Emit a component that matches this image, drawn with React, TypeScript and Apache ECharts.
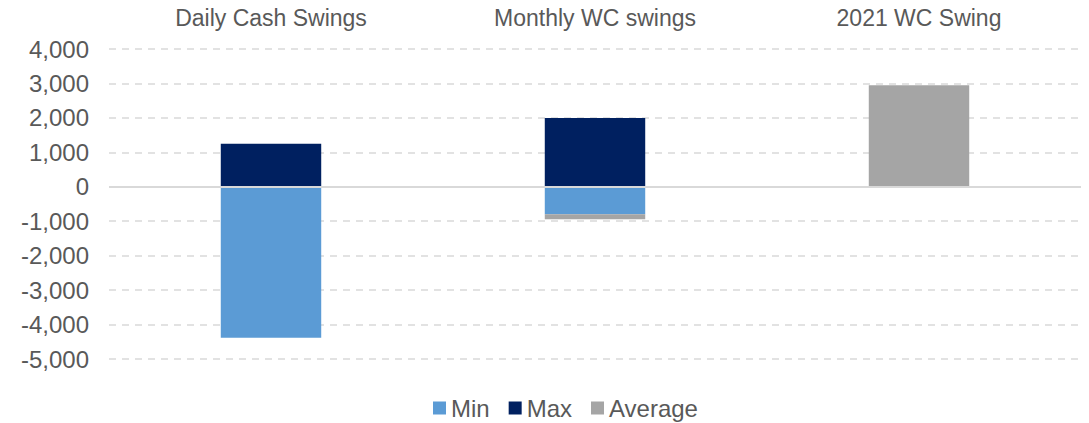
import React, { useEffect, useRef } from "react";
import * as echarts from "echarts";

const categories = ["Daily Cash Swings", "Monthly WC swings", "2021 WC Swing"];
const minValues = [-4380, -800, null];
const maxValues = [1250, 2000, null];
const averageValues = [null, -145, 2950];

export default function App() {
  const ref = useRef<HTMLDivElement>(null);
  useEffect(() => {
    if (!ref.current) return;
    const chart = echarts.init(ref.current, null, { renderer: "svg" });
    const font = "Liberation Sans, Arial, sans-serif";
    chart.setOption({
      animation: false,
      grid: { left: 109, right: 8, top: 49, bottom: 64 },
      legend: {
        top: 391,
        left: 428,
        icon: "rect",
        itemWidth: 13,
        itemHeight: 13,
        itemGap: 19,
        textStyle: { fontFamily: font, fontSize: 24, color: "#595959" },
        data: ["Min", "Max", "Average"],
      },
      xAxis: {
        type: "category",
        position: "top",
        data: categories,
        axisLine: { show: false, onZero: false },
        axisTick: { show: false },
        axisLabel: { fontFamily: font, fontSize: 23, color: "#595959", margin: 20 },
      },
      yAxis: {
        type: "value",
        min: -5000,
        max: 4000,
        interval: 1000,
        axisLine: { show: false },
        axisTick: { show: false },
        axisLabel: {
          fontFamily: font,
          fontSize: 24,
          color: "#595959",
          margin: 20,
          formatter: (v: number) => v.toLocaleString("en-US"),
        },
        splitLine: { lineStyle: { color: "#d9d9d9", width: 1.5, type: [7, 6] } },
      },
      series: [
        {
          name: "Min",
          type: "bar",
          stack: "s",
          barWidth: "31%",
          data: minValues,
          itemStyle: { color: "#5b9bd5" },
          markLine: {
            silent: true,
            symbol: "none",
            label: { show: false },
            lineStyle: { color: "#d9d9d9", width: 2, type: "solid" },
            data: [{ yAxis: 0 }],
          },
        },
        {
          name: "Max",
          type: "bar",
          stack: "s",
          barWidth: "31%",
          data: maxValues,
          itemStyle: { color: "#002060" },
        },
        {
          name: "Average",
          type: "bar",
          stack: "s",
          barWidth: "31%",
          data: averageValues,
          itemStyle: { color: "#a5a5a5" },
        },
      ],
    });
    return () => chart.dispose();
  }, []);
  return (
    <div
      ref={ref}
      style={{ position: "fixed", left: 0, top: 0, width: 1089, height: 423, background: "#fff" }}
    />
  );
}
